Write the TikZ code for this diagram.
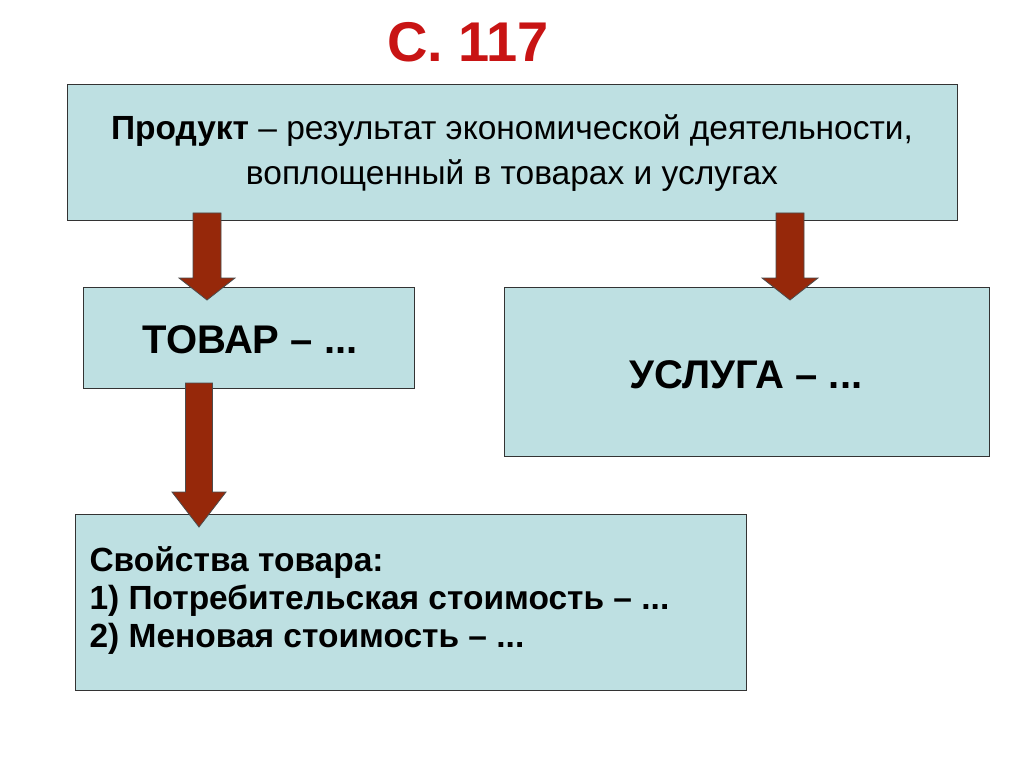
\documentclass[tikz,border=0pt]{standalone}
\usepackage{fontspec}
\setmainfont{Liberation Sans}
\definecolor{boxfill}{RGB}{190,224,226}
\definecolor{arrfill}{RGB}{150,40,10}
\definecolor{titlered}{RGB}{200,20,20}
\tikzset{box/.style={draw=black!80,line width=0.8pt,fill=boxfill},
blockarrow/.style={draw=black!70,line width=0.8pt,fill=arrfill}}
\newcommand{\barrow}[5]{% x, ytop, ybottom, yhead, shafthalf
\fill[blockarrow] ({#1-#5},#2) -- ({#1+#5},#2) -- ({#1+#5},#4) -- ({#1+2*#5},#4) -- (#1,#3) -- ({#1-2*#5},#4) -- ({#1-#5},#4) -- cycle;}
\begin{document}
\begin{tikzpicture}[x=1pt,y=-1pt]
\useasboundingbox[fill=white] (0,0) rectangle (1024,767);
\node[text=titlered,font=\fontsize{56}{60}\selectfont\bfseries] (title) at (468,42) {С. 117};
\draw[box] (67,84) rectangle (957,220);
\node[font=\fontsize{33.5}{45}\selectfont,align=center] (prod) at (512,153) {\textbf{Продукт} – результат экономической деятельности,\\воплощенный в товарах и услугах};
\draw[box] (83,287) rectangle (414,388);
\node[font=\fontsize{40}{46}\selectfont\bfseries] (tovar) at (250,340) {ТОВАР – ...};
\draw[box] (504,287) rectangle (989,456);
\node[font=\fontsize{40}{46}\selectfont\bfseries] (usl) at (746,375) {УСЛУГА – ...};
\draw[box] (75,514) rectangle (746,690);
\node[font=\fontsize{33.5}{38}\selectfont\bfseries,align=left,anchor=north west] (svo) at (86,543) {Свойства товара:\\1) Потребительская стоимость – ...\\2) Меновая стоимость – ...};
\barrow{207}{213}{300}{278}{14}
\barrow{790}{213}{300}{278}{14}
\barrow{199}{383}{527}{492}{13.5}
\end{tikzpicture}
\end{document}
